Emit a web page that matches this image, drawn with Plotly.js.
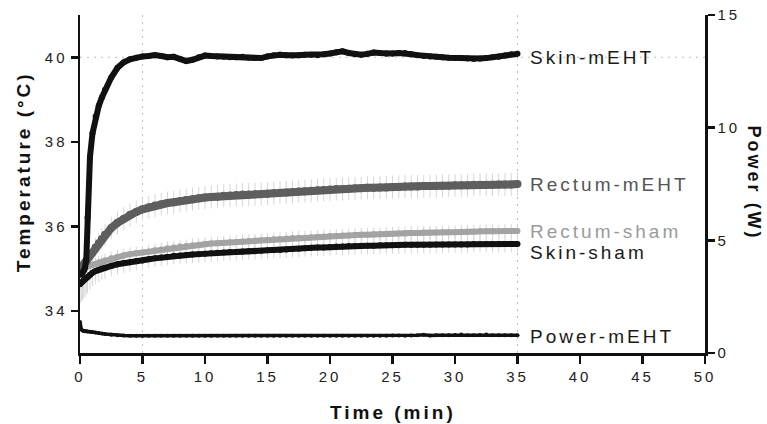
<!DOCTYPE html>
<html>
<head>
<meta charset="utf-8">
<script src="https://cdn.plot.ly/plotly-3.0.1.min.js"></script>
<style>
  html, body { margin: 0; padding: 0; background: #fff; }
  #chart { width: 767px; height: 424px; }
  svg text { letter-spacing: 3px; }
</style>
</head>
<body>
<div id="chart"></div>
<script>
// ---- data ----
const time = [
  0,0.1,0.2,0.3,0.4,0.5,0.6,0.8,1,1.25,
  1.5,1.75,2,2.5,3,3.5,4,4.5,5,5.5,
  6,6.5,7,7.5,8,8.5,9,9.5,10,10.5,
  11,11.5,12,12.5,13,13.5,14,14.5,15,15.5,
  16,16.5,17,17.5,18,18.5,19,19.5,20,20.5,
  21,21.5,22,22.5,23,23.5,24,24.5,25,25.5,
  26,26.5,27,27.5,28,28.5,29,29.5,30,30.5,
  31,31.5,32,32.5,33,33.5,34,34.5,35
];
const skinMEHT = [
  34.85,34.86,34.9,34.95,35.02,35.2,36.2,37.65,38.2,38.6,
  38.85,39.05,39.23,39.52,39.75,39.88,39.95,39.99,40.02,40.03,
  40.05,40.03,40.0,40.01,39.96,39.91,39.94,40.0,40.04,40.03,
  40.02,40.01,40.0,40.0,40.01,39.99,39.98,39.98,40.02,40.05,
  40.06,40.05,40.04,40.05,40.06,40.06,40.05,40.07,40.09,40.12,
  40.14,40.1,40.07,40.06,40.08,40.11,40.1,40.08,40.09,40.1,
  40.1,40.07,40.05,40.03,40.02,40.01,40.0,39.99,39.98,39.98,
  39.97,39.96,39.97,39.98,40.0,40.01,40.04,40.07,40.08
];
const skinMEHTsd = [
  0.08,0.08,0.08,0.1,0.12,0.18,0.25,0.25,0.22,0.2,
  0.18,0.16,0.15,0.13,0.11,0.1,0.09,0.08,0.07,0.07,
  0.07,0.06,0.07,0.06,0.07,0.07,0.06,0.07,0.06,0.06,
  0.07,0.06,0.06,0.07,0.06,0.06,0.07,0.06,0.07,0.06,
  0.06,0.07,0.06,0.06,0.07,0.06,0.07,0.07,0.06,0.08,
  0.08,0.07,0.06,0.07,0.08,0.08,0.07,0.06,0.07,0.06,
  0.06,0.07,0.06,0.07,0.06,0.06,0.07,0.06,0.07,0.06,
  0.06,0.07,0.06,0.07,0.06,0.07,0.08,0.08,0.07
];
const rectumMEHT = [
  35.0,35.02,35.06,35.1,35.14,35.18,35.22,35.3,35.38,35.5,
  35.6,35.7,35.8,35.96,36.08,36.18,36.27,36.34,36.4,36.45,
  36.49,36.52,36.55,36.57,36.6,36.62,36.64,36.66,36.68,36.69,
  36.7,36.72,36.73,36.74,36.75,36.75,36.76,36.76,36.77,36.78,
  36.79,36.8,36.81,36.82,36.83,36.84,36.85,36.86,36.87,36.88,
  36.88,36.89,36.9,36.9,36.91,36.91,36.92,36.92,36.93,36.93,
  36.94,36.94,36.94,36.95,36.95,36.95,36.96,36.96,36.97,36.97,
  36.97,36.98,36.98,36.98,36.98,36.99,36.99,36.99,37.0
];
const rectumMEHTsd = [
  0.12,0.12,0.13,0.14,0.15,0.16,0.17,0.18,0.2,0.22,
  0.24,0.25,0.26,0.27,0.27,0.27,0.27,0.27,0.27,0.27,
  0.27,0.27,0.27,0.27,0.27,0.27,0.27,0.27,0.27,0.27,
  0.27,0.27,0.27,0.27,0.27,0.27,0.27,0.27,0.27,0.27,
  0.27,0.27,0.27,0.27,0.27,0.27,0.27,0.27,0.27,0.27,
  0.27,0.27,0.27,0.27,0.27,0.27,0.27,0.27,0.27,0.27,
  0.27,0.27,0.27,0.27,0.27,0.27,0.27,0.27,0.27,0.27,
  0.27,0.27,0.27,0.27,0.27,0.27,0.27,0.27,0.27
];
const rectumSham = [
  35.0,35.0,35.01,35.02,35.03,35.04,35.05,35.07,35.09,35.11,
  35.14,35.16,35.19,35.24,35.28,35.31,35.34,35.36,35.38,35.4,
  35.43,35.45,35.48,35.5,35.52,35.53,35.55,35.56,35.58,35.59,
  35.6,35.61,35.62,35.63,35.64,35.65,35.66,35.67,35.68,35.69,
  35.7,35.71,35.72,35.73,35.73,35.74,35.75,35.76,35.77,35.77,
  35.78,35.78,35.79,35.8,35.8,35.81,35.81,35.82,35.82,35.83,
  35.83,35.84,35.84,35.85,35.85,35.85,35.86,35.86,35.86,35.87,
  35.87,35.87,35.88,35.88,35.88,35.88,35.89,35.89,35.89
];
const rectumShamsd = [
  0.1,0.1,0.1,0.11,0.12,0.12,0.13,0.14,0.15,0.15,
  0.16,0.16,0.16,0.16,0.16,0.16,0.16,0.16,0.16,0.16,
  0.16,0.16,0.16,0.16,0.16,0.16,0.16,0.16,0.16,0.16,
  0.16,0.16,0.16,0.16,0.16,0.16,0.16,0.16,0.16,0.16,
  0.16,0.16,0.16,0.16,0.16,0.16,0.16,0.16,0.16,0.16,
  0.16,0.16,0.16,0.16,0.16,0.16,0.16,0.16,0.16,0.16,
  0.16,0.16,0.16,0.16,0.16,0.16,0.16,0.16,0.16,0.16,
  0.16,0.16,0.16,0.16,0.16,0.16,0.16,0.16,0.16
];
const skinSham = [
  34.63,34.66,34.69,34.72,34.75,34.78,34.8,34.85,34.9,34.94,
  34.97,35.0,35.02,35.06,35.1,35.13,35.15,35.17,35.19,35.22,
  35.24,35.26,35.28,35.3,35.31,35.32,35.33,35.34,35.35,35.36,
  35.37,35.38,35.39,35.39,35.4,35.41,35.41,35.42,35.43,35.44,
  35.44,35.45,35.46,35.47,35.48,35.49,35.5,35.5,35.51,35.52,
  35.52,35.53,35.53,35.54,35.54,35.54,35.55,35.55,35.55,35.55,
  35.56,35.56,35.56,35.56,35.56,35.57,35.57,35.57,35.57,35.57,
  35.57,35.58,35.58,35.58,35.58,35.58,35.58,35.58,35.58
];
const skinShamsd = [
  0.45,0.45,0.44,0.43,0.42,0.4,0.38,0.35,0.32,0.3,
  0.28,0.27,0.26,0.25,0.24,0.23,0.22,0.22,0.21,0.21,
  0.2,0.2,0.2,0.2,0.2,0.2,0.2,0.2,0.2,0.2,
  0.2,0.2,0.2,0.2,0.2,0.2,0.2,0.2,0.2,0.2,
  0.2,0.2,0.2,0.2,0.2,0.2,0.2,0.2,0.2,0.2,
  0.2,0.2,0.2,0.2,0.2,0.2,0.2,0.2,0.2,0.2,
  0.2,0.2,0.2,0.2,0.2,0.2,0.2,0.2,0.2,0.2,
  0.2,0.2,0.2,0.2,0.2,0.2,0.2,0.2,0.2
];
const powerMEHT = [
  1.38,1.05,1.0,0.98,0.97,0.96,0.95,0.94,0.93,0.91,
  0.89,0.86,0.84,0.81,0.79,0.78,0.77,0.77,0.76,0.76,
  0.76,0.77,0.76,0.76,0.76,0.76,0.76,0.76,0.76,0.76,
  0.76,0.76,0.76,0.76,0.76,0.76,0.76,0.77,0.76,0.76,
  0.76,0.76,0.77,0.76,0.76,0.76,0.76,0.77,0.76,0.76,
  0.76,0.76,0.77,0.77,0.77,0.77,0.77,0.77,0.78,0.78,
  0.77,0.78,0.79,0.81,0.78,0.79,0.79,0.79,0.8,0.82,
  0.79,0.79,0.8,0.82,0.79,0.79,0.79,0.79,0.79
];
const seriesNames = ['Skin-mEHT','Rectum-mEHT','Rectum-sham','Skin-sham','Power-mEHT'];
const xTicks = [0,5,10,15,20,25,30,35,40,45,50];
const tempTicks = [34,36,38,40];
const powerTicks = [0,5,10,15];
const refTimes = [5,35];
const refTemp = 40;

// ---- styling ----
const FONT = 'Liberation Sans, Arial, Helvetica, sans-serif';
const INK = '#111';
const HALO = '#d6d6d6';

function halo(y, sd, yaxis) {
  return {
    x: time, y: y, yaxis: yaxis || 'y', type: 'scatter', mode: 'markers',
    marker: {size: 2, color: 'rgba(0,0,0,0)'},
    error_y: {type: 'data', array: sd, visible: true, color: HALO, thickness: 1, width: 0},
    hoverinfo: 'skip', showlegend: false
  };
}
function band(y, name, color, lw, ms, yaxis) {
  return {
    x: time, y: y, name: name, yaxis: yaxis || 'y', type: 'scatter', mode: 'lines+markers',
    line: {color: color, width: lw},
    marker: {color: color, size: ms},
    showlegend: false
  };
}

const traces = [
  halo(rectumSham, rectumShamsd),
  halo(skinSham, skinShamsd),
  halo(rectumMEHT, rectumMEHTsd),
  halo(skinMEHT, skinMEHTsd),
  band(rectumSham, seriesNames[2], '#a3a3a3', 6, 6),
  band(skinSham, seriesNames[3], INK, 6, 6),
  band(rectumMEHT, seriesNames[1], '#5e5e5e', 8, 8),
  band(skinMEHT, seriesNames[0], INK, 6, 6),
  band(powerMEHT, seriesNames[4], INK, 3.5, 4, 'y2')
];

const labelX = 35.85;
function label(text, y, color, yref) {
  return {
    x: labelX, y: y, xref: 'x', yref: yref || 'y', text: text, showarrow: false,
    xanchor: 'left', yanchor: 'middle',
    font: {family: FONT, size: 19, color: color}
  };
}

const annotations = [
  label(seriesNames[0], 40.0, '#1a1a1a'),
  label(seriesNames[1], 36.98, '#555555'),
  label(seriesNames[2], 35.88, '#9a9a9a'),
  label(seriesNames[3], 35.38, '#1a1a1a'),
  label(seriesNames[4], 0.72, '#1a1a1a', 'y2'),
  {x: 0.5, y: -0.175, xref: 'paper', yref: 'paper', text: 'Time (min)', showarrow: false,
   xanchor: 'center', yanchor: 'middle',
   font: {family: FONT, size: 19, color: '#111', weight: 'bold'}},
  {x: -0.091, y: 0.535, xref: 'paper', yref: 'paper', text: 'Temperature (°C)', showarrow: false,
   textangle: -90, xanchor: 'center', yanchor: 'middle',
   font: {family: FONT, size: 19, color: '#111', weight: 'bold'}},
  {x: 1.079, y: 0.503, xref: 'paper', yref: 'paper', text: 'Power (W)', showarrow: false,
   textangle: 90, xanchor: 'center', yanchor: 'middle',
   font: {family: FONT, size: 18, color: '#111', weight: 'bold'}}
];

const shapes = refTimes.map(t => ({
  type: 'line', xref: 'x', yref: 'paper', x0: t, x1: t, y0: 0, y1: 1, layer: 'below',
  line: {color: '#bdbdbd', width: 1, dash: '2px,5px'}
})).concat([{
  type: 'line', xref: 'paper', yref: 'y', x0: 0, x1: 1, y0: refTemp, y1: refTemp, layer: 'below',
  line: {color: '#bdbdbd', width: 1, dash: '2px,5px'}
}]);

const axisCommon = {
  showline: true, linecolor: INK, linewidth: 2.5, ticks: 'outside', ticklen: 7,
  tickwidth: 2.5, tickcolor: INK, showgrid: false, zeroline: false,
  tickfont: {family: FONT, size: 15, color: '#222'}
};

const layout = {
  width: 767, height: 424,
  margin: {l: 80, r: 62, t: 15, b: 71},
  paper_bgcolor: '#fff', plot_bgcolor: '#fff',
  showlegend: false,
  xaxis: Object.assign({}, axisCommon, {range: [0, 50], tickvals: xTicks, ticktext: xTicks.map(String), ticklen: 8}),
  yaxis: Object.assign({}, axisCommon, {range: [33, 41], tickvals: tempTicks, ticktext: tempTicks.map(String)}),
  yaxis2: Object.assign({}, axisCommon, {range: [0, 15], tickvals: powerTicks, ticktext: powerTicks.map(String),
    overlaying: 'y', side: 'right', anchor: 'x'}),
  annotations: annotations,
  shapes: shapes
};

Plotly.newPlot('chart', traces, layout, {displayModeBar: false, staticPlot: true});
</script>
</body>
</html>
